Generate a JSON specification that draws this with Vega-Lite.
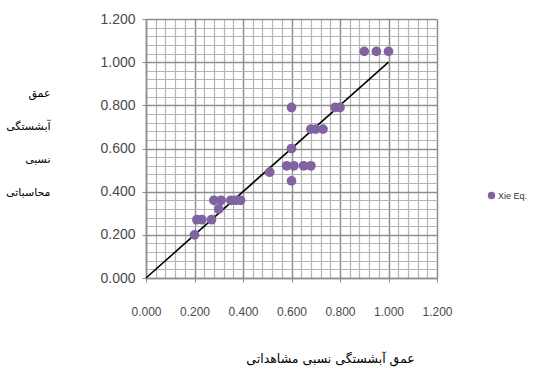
{
  "$schema": "https://vega.github.io/schema/vega-lite/v6.json",
  "autosize": "none",
  "width": 291,
  "height": 259,
  "padding": {"left": 146, "top": 19, "right": 97, "bottom": 98},
  "background": "white",
  "config": {"view": {"stroke": null}},
  "datasets": {
    "pts": [
      {"obs": 0.20, "calc": 0.20, "s": "Xie Eq."},
      {"obs": 0.21, "calc": 0.27, "s": "Xie Eq."},
      {"obs": 0.23, "calc": 0.27, "s": "Xie Eq."},
      {"obs": 0.27, "calc": 0.27, "s": "Xie Eq."},
      {"obs": 0.30, "calc": 0.32, "s": "Xie Eq."},
      {"obs": 0.28, "calc": 0.36, "s": "Xie Eq."},
      {"obs": 0.31, "calc": 0.36, "s": "Xie Eq."},
      {"obs": 0.35, "calc": 0.36, "s": "Xie Eq."},
      {"obs": 0.37, "calc": 0.36, "s": "Xie Eq."},
      {"obs": 0.39, "calc": 0.36, "s": "Xie Eq."},
      {"obs": 0.51, "calc": 0.49, "s": "Xie Eq."},
      {"obs": 0.58, "calc": 0.52, "s": "Xie Eq."},
      {"obs": 0.61, "calc": 0.52, "s": "Xie Eq."},
      {"obs": 0.65, "calc": 0.52, "s": "Xie Eq."},
      {"obs": 0.68, "calc": 0.52, "s": "Xie Eq."},
      {"obs": 0.60, "calc": 0.45, "s": "Xie Eq."},
      {"obs": 0.60, "calc": 0.60, "s": "Xie Eq."},
      {"obs": 0.60, "calc": 0.79, "s": "Xie Eq."},
      {"obs": 0.68, "calc": 0.69, "s": "Xie Eq."},
      {"obs": 0.70, "calc": 0.69, "s": "Xie Eq."},
      {"obs": 0.73, "calc": 0.69, "s": "Xie Eq."},
      {"obs": 0.78, "calc": 0.79, "s": "Xie Eq."},
      {"obs": 0.80, "calc": 0.79, "s": "Xie Eq."},
      {"obs": 0.90, "calc": 1.05, "s": "Xie Eq."},
      {"obs": 0.95, "calc": 1.05, "s": "Xie Eq."},
      {"obs": 1.00, "calc": 1.05, "s": "Xie Eq."}
    ],
    "line": [
      {"obs": 0, "calc": 0},
      {"obs": 1, "calc": 1}
    ]
  },
  "layer": [
    {
      "data": {"name": "line"},
      "mark": {"type": "line", "color": "#000000", "strokeWidth": 1.6},
      "encoding": {
        "x": {"field": "obs", "type": "quantitative", "scale": {"domain": [0, 1.2], "nice": false, "zero": true},
          "axis": {
            "values": [0,0.04,0.08,0.12,0.16,0.2,0.24,0.28,0.32,0.36,0.4,0.44,0.48,0.52,0.56,0.6,0.64,0.68,0.72,0.76,0.8,0.84,0.88,0.92,0.96,1.0,1.04,1.08,1.12,1.16,1.2],
            "tickCount": 100,
            "labelExpr": "round(datum.value*100) % 20 == 0 ? format(datum.value, '.3f') : ''",
            "grid": true,
            "gridColor": {"condition": {"test": "round(datum.value*100) % 20 == 0", "value": "#8e8e8e"}, "value": "#b4b4b4"},
            "gridWidth": {"condition": {"test": "round(datum.value*100) % 20 == 0", "value": 1.5}, "value": 1.2},
            "tickSize": 4,
            "tickColor": "#8e8e8e",
            "tickOpacity": {"condition": {"test": "round(datum.value*100) % 20 == 0", "value": 1}, "value": 0},
            "domainColor": "#8e8e8e",
            "domainWidth": 1.5,
            "labelFont": "Liberation Sans",
            "labelFontSize": 12,
            "labelColor": "#4a4a4a",
            "labelPadding": 24,
            "labelFlush": false,
            "labelOverlap": false,
            "title": "عمق آبشستگی نسبی مشاهداتی",
            "titleFont": "DejaVu Sans",
            "titleFontSize": 12.5,
            "titleFontWeight": "normal",
            "titleColor": "#000000",
            "titleX": 184,
            "titleY": 84,
            "titleBaseline": "alphabetic"
          }
        },
        "y": {"field": "calc", "type": "quantitative", "scale": {"domain": [0, 1.2], "nice": false, "zero": true},
          "axis": {
            "values": [0,0.04,0.08,0.12,0.16,0.2,0.24,0.28,0.32,0.36,0.4,0.44,0.48,0.52,0.56,0.6,0.64,0.68,0.72,0.76,0.8,0.84,0.88,0.92,0.96,1.0,1.04,1.08,1.12,1.16,1.2],
            "tickCount": 100,
            "labelExpr": "round(datum.value*100) % 20 == 0 ? format(datum.value, '.3f') : ''",
            "grid": true,
            "gridColor": {"condition": {"test": "round(datum.value*100) % 20 == 0", "value": "#8e8e8e"}, "value": "#b4b4b4"},
            "gridWidth": {"condition": {"test": "round(datum.value*100) % 20 == 0", "value": 1.5}, "value": 1.2},
            "tickSize": 4,
            "tickColor": "#8e8e8e",
            "tickOpacity": {"condition": {"test": "round(datum.value*100) % 20 == 0", "value": 1}, "value": 0},
            "domainColor": "#8e8e8e",
            "domainWidth": 1.5,
            "labelFont": "Liberation Sans",
            "labelFontSize": 14,
            "labelColor": "#4a4a4a",
            "labelPadding": 7,
            "labelFlush": false,
            "labelOverlap": false,
            "title": ["عمق", "آبشستگی", "نسبی", "محاسباتی"],
            "titleFont": "DejaVu Sans",
            "titleFontSize": 11,
            "titleFontWeight": "normal",
            "titleColor": "#000000",
            "titleAngle": 0,
            "titleAlign": "right",
            "titleBaseline": "alphabetic",
            "titleLineHeight": 33,
            "titleX": -96,
            "titleY": 77
          }
        }
      }
    },
    {
      "data": {"name": "pts"},
      "mark": {"type": "circle", "size": 95, "opacity": 1},
      "encoding": {
        "x": {"field": "obs", "type": "quantitative"},
        "y": {"field": "calc", "type": "quantitative"},
        "color": {"field": "s", "type": "nominal", "scale": {"range": ["#8064A2"]},
          "legend": {"orient": "none", "legendX": 341, "legendY": 172, "title": null, "symbolType": "circle", "symbolSize": 55, "labelFont": "Liberation Sans", "labelFontSize": 9, "labelColor": "#333333", "labelOffset": 2}
        }
      }
    }
  ]
}
